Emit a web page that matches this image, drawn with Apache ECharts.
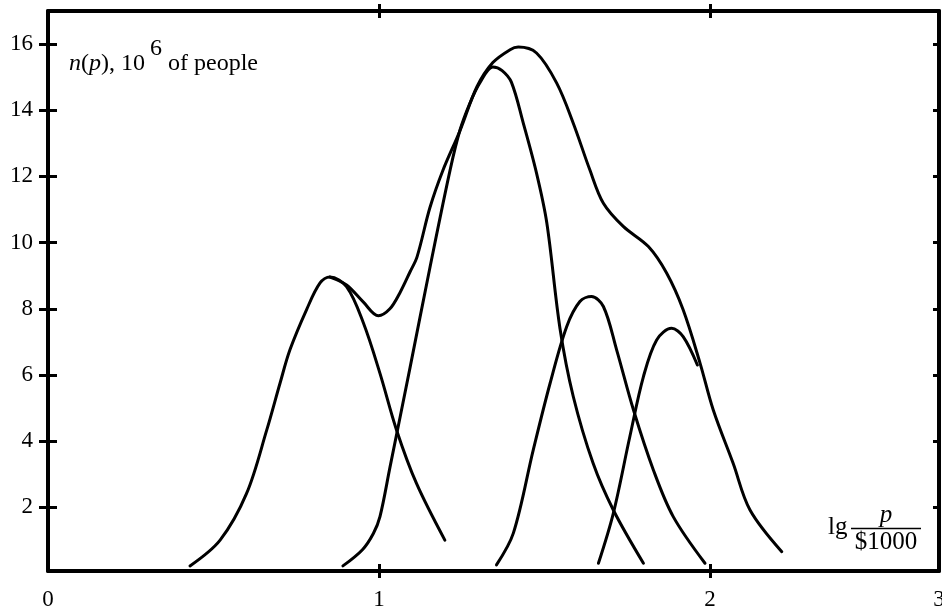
<!DOCTYPE html>
<html>
<head>
<meta charset="utf-8">
<script src="https://cdn.jsdelivr.net/npm/echarts@6/dist/echarts.min.js"></script>
<style>
html,body{margin:0;padding:0;background:#fff;}
#chart{width:942px;height:610px;}
</style>
</head>
<body>
<div id="chart"></div>
<script>
// ---- data (x = lg(p/$1000), y = n(p), 10^6 people) ----
const curveA = [[0.429,0.23],[0.520,1.01],[0.600,2.42],[0.661,4.34],[0.701,5.75],[0.731,6.76],[0.781,7.97],[0.822,8.78],[0.852,8.96],[0.902,8.67],[0.953,7.57],[1.003,6.05],[1.053,4.34],[1.113,2.73],[1.199,1.01]];
const curveB = [[0.891,0.23],[0.950,0.72],[0.983,1.21],[1.003,1.72],[1.033,3.20],[1.094,6.23],[1.154,9.25],[1.215,12.20],[1.245,13.41],[1.275,14.22],[1.305,14.83],[1.344,15.31],[1.372,15.2],[1.400,14.85],[1.436,13.61],[1.476,12.10],[1.507,10.6],[1.547,7.4],[1.587,5.35],[1.647,3.33],[1.708,1.92],[1.799,0.31]];
const curveC = [[1.355,0.26],[1.406,1.22],[1.466,3.73],[1.517,5.75],[1.567,7.46],[1.607,8.22],[1.642,8.37],[1.678,8.07],[1.718,6.76],[1.769,4.94],[1.829,3.13],[1.889,1.72],[1.985,0.31]];
const curveD = [[1.663,0.31],[1.708,1.82],[1.758,4.14],[1.799,5.95],[1.839,7.06],[1.884,7.41],[1.919,7.16],[1.962,6.3]];
const curveTotal = [[0.852,8.96],[0.902,8.72],[0.953,8.2],[0.998,7.79],[1.033,8.00],[1.063,8.48],[1.094,9.12],[1.115,9.57],[1.154,11.06],[1.193,12.18],[1.245,13.39],[1.296,14.71],[1.344,15.44],[1.396,15.83],[1.421,15.91],[1.476,15.73],[1.537,14.82],[1.587,13.61],[1.637,12.20],[1.678,11.19],[1.738,10.49],[1.814,9.88],[1.869,9.08],[1.919,7.97],[1.970,6.36],[2.010,4.94],[2.070,3.33],[2.121,1.92],[2.217,0.66]];

const xMin = 0, xMax = 2.692;
const yMin = 0.076, yMax = 17;
const xTickValues = [0, 1, 2, xMax];
const xTickLabels = ['0', '1', '2', '3'];
const xTickMarks = [1, 2];
const yTickValues = [2, 4, 6, 8, 10, 12, 14, 16];

const FONT = '"Liberation Serif", "Times New Roman", serif';
const chart = echarts.init(document.getElementById('chart'), null, {renderer: 'canvas'});

function xAx(pos, lineShow, inside, labels) {
  return {
    type: 'value', position: pos, min: xMin, max: xMax,
    axisLine: {show: lineShow, onZero: false, lineStyle: {color: '#000', width: 4}},
    axisTick: {show: true, inside: inside, length: 7, customValues: xTickMarks, lineStyle: {color: '#000', width: 3}},
    axisLabel: labels ? {
      show: true, customValues: xTickValues, margin: 17, color: '#000', fontFamily: FONT, fontSize: 23,
      formatter: function (v) { const i = xTickValues.indexOf(v); return i >= 0 ? xTickLabels[i] : ''; }
    } : {show: false},
    splitLine: {show: false}
  };
}
function yAx(pos, lineShow, inside, len, labels) {
  return {
    type: 'value', position: pos, min: yMin, max: yMax,
    axisLine: {show: lineShow, onZero: false, lineStyle: {color: '#000', width: 4}},
    axisTick: {show: true, inside: inside, length: len, customValues: yTickValues, lineStyle: {color: '#000', width: 3}},
    axisLabel: labels ? {
      show: true, customValues: yTickValues, margin: 15, color: '#000', fontFamily: FONT, fontSize: 23
    } : {show: false},
    splitLine: {show: false}
  };
}

const lineSeries = (data) => ({
  type: 'line', data: data, xAxisIndex: 0, yAxisIndex: 0,
  smooth: 0.34, showSymbol: false, symbol: 'none', silent: true,
  lineStyle: {color: '#000', width: 3, cap: 'round', join: 'round'}
});

chart.setOption({
  animation: false,
  backgroundColor: '#fff',
  grid: {left: 48, right: 3, top: 11, bottom: 39, containLabel: false, outerBoundsMode: 'none'},
  xAxis: [
    xAx('bottom', true, false, true),
    xAx('bottom', false, true, false),
    xAx('top', true, false, false),
    xAx('top', false, true, false)
  ],
  yAxis: [
    yAx('left', true, false, 9, true),
    yAx('left', false, true, 9, false),
    yAx('right', true, true, 6, false)
  ],
  series: [
    lineSeries(curveA),
    lineSeries(curveB),
    lineSeries(curveC),
    lineSeries(curveD),
    lineSeries(curveTotal)
  ],
  graphic: [
    {type: 'text', x: 69, y: 64, style: {
      text: '{i|n}{r|(}{i|p}{r|), 10}', verticalAlign: 'middle', align: 'left',
      rich: {
        i: {fontFamily: FONT, fontSize: 24, fontStyle: 'italic', fill: '#000'},
        r: {fontFamily: FONT, fontSize: 24, fill: '#000'}
      }, font: '24px ' + FONT, fill: '#000'}},
    {type: 'text', x: 150, y: 49, style: {text: '6', font: '24px ' + FONT, fill: '#000', verticalAlign: 'middle', align: 'left'}},
    {type: 'text', x: 168, y: 64, style: {text: 'of people', font: '24px ' + FONT, fill: '#000', verticalAlign: 'middle', align: 'left'}},
    {type: 'text', x: 828, y: 527, style: {text: 'lg', font: '25px ' + FONT, fill: '#000', verticalAlign: 'middle', align: 'left'}},
    {type: 'text', x: 886, y: 515, style: {text: 'p', font: 'italic 25px ' + FONT, fill: '#000', verticalAlign: 'middle', align: 'center'}},
    {type: 'line', shape: {x1: 851, y1: 528.5, x2: 921, y2: 528.5}, style: {stroke: '#000', lineWidth: 1.5}},
    {type: 'text', x: 886, y: 542, style: {text: '$1000', font: '25px ' + FONT, fill: '#000', verticalAlign: 'middle', align: 'center'}}
  ]
});
</script>
</body>
</html>
